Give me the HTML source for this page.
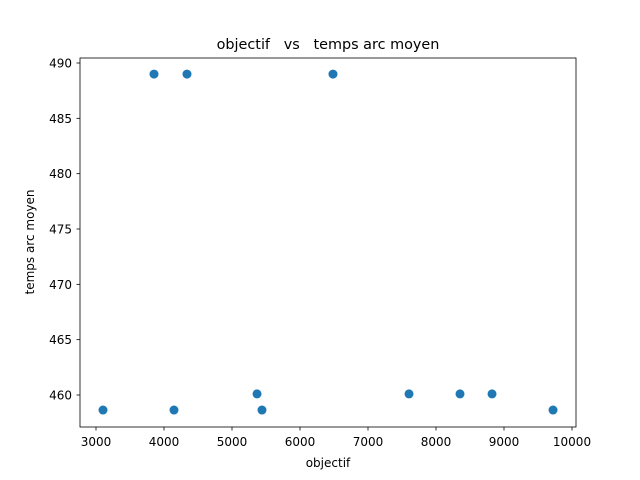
<!DOCTYPE html>
<html><head><meta charset="utf-8"><style>
body{margin:0;background:#fff;}
svg{display:block;font-family:"DejaVu Sans","Liberation Sans",sans-serif;}
</style></head><body>
<svg id="chart" width="640" height="480">
<rect width="640" height="480" fill="#fff"/>
<text x="328" y="49" text-anchor="middle" font-size="14.4" style="white-space:pre">objectif &#160; vs &#160; temps arc moyen</text>
<g id="ticks"></g>
<g id="points"></g>
<rect x="80" y="58" width="496" height="369" fill="none" stroke="#000" stroke-width="0.8"/>
<text x="328" y="467" text-anchor="middle" font-size="12">objectif</text>
<text transform="translate(34,242) rotate(-90)" text-anchor="middle" font-size="12">temps arc moyen</text>
</svg>
<script>
const xVals=[3103,3853,4338,4147,5368,5441,6485,7603,8353,8824,9721];
const yVals=[458.64,489,489,458.64,460.1,458.64,489,460.1,460.1,460.1,458.64];
const xTicks=[3000,4000,5000,6000,7000,8000,9000,10000];
const yTicks=[460,465,470,475,480,485,490];
const NS="http://www.w3.org/2000/svg";
function xs(v){return 96+(v-3000)*0.068;}
function ys(v){return 395-(v-460)*11.0667;}
const tg=document.getElementById('ticks');
xTicks.forEach(t=>{
  const l=document.createElementNS(NS,'line');
  l.setAttribute('x1',xs(t));l.setAttribute('x2',xs(t));l.setAttribute('y1',427);l.setAttribute('y2',430.5);
  l.setAttribute('stroke','#000');l.setAttribute('stroke-width','0.8');
  
  
  tg.appendChild(l);
  const tx=document.createElementNS(NS,'text');
  tx.setAttribute('x',xs(t));tx.setAttribute('y',446);tx.setAttribute('text-anchor','middle');tx.setAttribute('font-size','12');
  tx.textContent=t;
  
  
  tg.appendChild(tx);
});
yTicks.forEach(t=>{
  const l=document.createElementNS(NS,'line');
  l.setAttribute('x1',76.5);l.setAttribute('x2',80);l.setAttribute('y1',ys(t));l.setAttribute('y2',ys(t));
  l.setAttribute('stroke','#000');l.setAttribute('stroke-width','0.8');
  
  
  tg.appendChild(l);
  const tx=document.createElementNS(NS,'text');
  tx.setAttribute('x',72);tx.setAttribute('y',ys(t)+4.5);tx.setAttribute('text-anchor','end');tx.setAttribute('font-size','12');
  tx.textContent=t;
  
  
  tg.appendChild(tx);
});
const pg=document.getElementById('points');
xVals.forEach((v,i)=>{
  const c=document.createElementNS(NS,'circle');
  c.setAttribute('cx',xs(v));c.setAttribute('cy',ys(yVals[i]));c.setAttribute('r',4.5);c.setAttribute('fill','#1f77b4');
  
  
  pg.appendChild(c);
});
</script>
</body></html>
